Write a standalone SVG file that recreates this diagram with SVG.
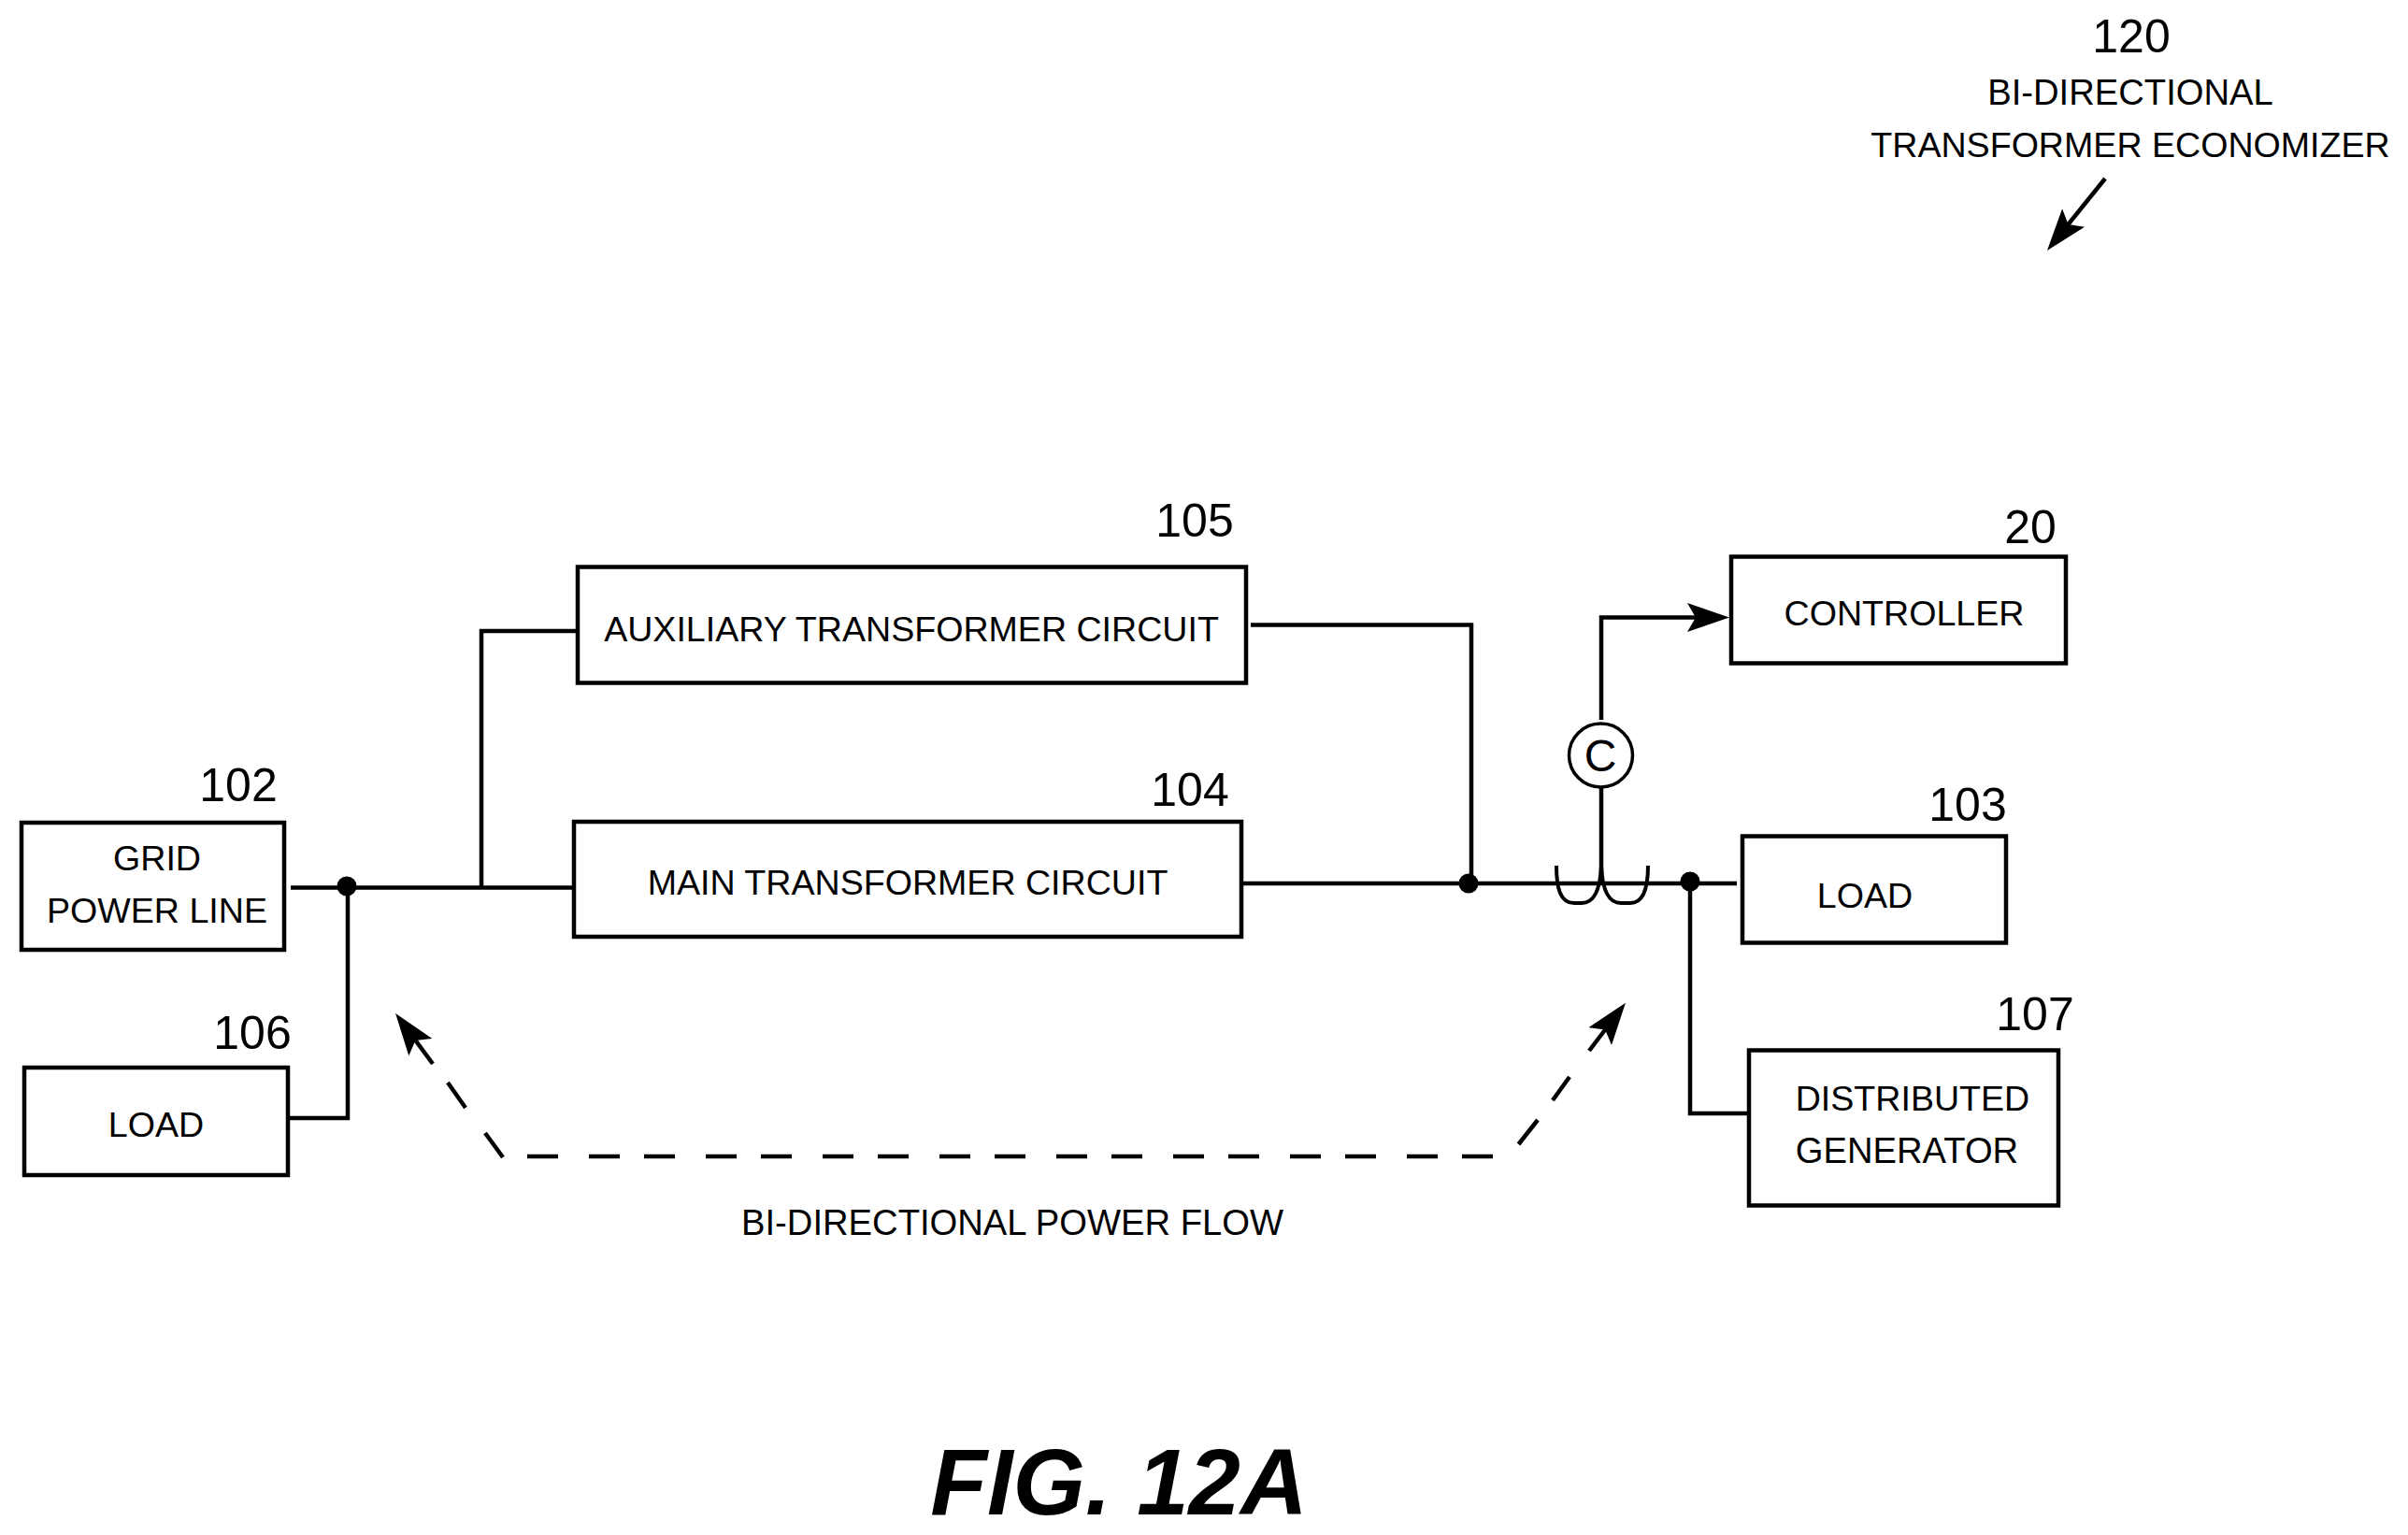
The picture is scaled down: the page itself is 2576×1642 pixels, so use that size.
<svg xmlns="http://www.w3.org/2000/svg" width="2576" height="1642" viewBox="0 0 2576 1642">
<style>
text{font-family:"Liberation Sans",Arial,sans-serif;fill:#000}
.lbl{font-size:37.6px}
.wide{font-size:38.2px}
.num{font-size:50px}
.fig{font-size:99.5px;font-weight:bold;font-style:italic}
.box{fill:#fff;stroke:#000;stroke-width:4.5}
.wire{fill:none;stroke:#000;stroke-width:4.5}
.thin{fill:none;stroke:#000;stroke-width:4}
.dash{fill:none;stroke:#000;stroke-width:4.5}
.dot{fill:#000}
</style>
<defs>
<marker id="head" markerUnits="userSpaceOnUse" markerWidth="45" markerHeight="31" viewBox="0 0 45 31" refX="36" refY="15.5" orient="auto">
<path d="M0 0L45 15.5L0 31L9 15.5Z" fill="#000"/>
</marker>
</defs>
<rect width="2576" height="1642" fill="#fff"/>
<g id="connectors">
<path class="wire" d="M311 949.5H613"/>
<path class="wire" d="M515 949.5V675H618"/>
<path class="wire" d="M310 1196H372V947"/>
<path class="wire" d="M1330 945H1858"/>
<path class="wire" d="M1338 668.5H1574V944"/>
<path class="wire" d="M1808 942V1191H1871"/>
<path class="wire" d="M1713 770V660.5H1841" marker-end="url(#head)"/>
<path class="wire" d="M1713 842V947"/>
<path class="thin" d="M1665 926C1665 950 1669 966 1684 966H1692C1706 966 1712 950 1713 926"/>
<path class="thin" d="M1713 926C1714 950 1720 966 1734 966H1744C1758 966 1763 950 1763 926"/>
<circle class="dot" cx="371" cy="948" r="10.5"/>
<circle class="dot" cx="1571" cy="945" r="10.5"/>
<circle class="dot" cx="1808" cy="943" r="10.5"/>
<path class="wire" d="M2252 191L2195.6 261" marker-end="url(#head)"/>
<g id="power-flow">
<path class="dash" stroke-dasharray="33 33 33 26" d="M564 1237H1597"/>
<path class="dash" d="M538 1238L519 1212M498 1185L479 1158"/>
<path class="dash" d="M463 1138L428.4 1091.2" marker-end="url(#head)"/>
<path class="dash" d="M1624.5 1224L1645 1198M1661 1177L1679 1152"/>
<path class="dash" d="M1700 1124L1733.5 1080" marker-end="url(#head)"/>
</g>
</g>
<g id="node-102"><rect class="box" x="23" y="880" width="281" height="136"/>
<text class="lbl" x="168" y="931" text-anchor="middle">GRID</text>
<text class="lbl" x="168" y="987" text-anchor="middle">POWER LINE</text>
<text class="num" x="255" y="857" text-anchor="middle">102</text></g>
<g id="node-106"><rect class="box" x="26" y="1142" width="282" height="115"/>
<text class="lbl" x="167" y="1216" text-anchor="middle">LOAD</text>
<text class="num" x="270" y="1122" text-anchor="middle">106</text></g>
<g id="node-105"><rect class="box" x="618" y="606.5" width="715" height="124"/>
<text class="lbl" x="975" y="686" text-anchor="middle">AUXILIARY TRANSFORMER CIRCUIT</text>
<text class="num" x="1278" y="574" text-anchor="middle">105</text></g>
<g id="node-104"><rect class="box" x="614" y="879" width="714" height="123"/>
<text class="lbl" x="971" y="957" text-anchor="middle">MAIN TRANSFORMER CIRCUIT</text>
<text class="num" x="1273" y="862" text-anchor="middle">104</text></g>
<g id="node-20"><rect class="box" x="1852" y="595.5" width="358" height="114"/>
<text class="lbl" x="2037" y="669" text-anchor="middle">CONTROLLER</text>
<text class="num" x="2172" y="581" text-anchor="middle">20</text></g>
<g id="node-103"><rect class="box" x="1864" y="894.5" width="282" height="114"/>
<text class="lbl" x="1995" y="971" text-anchor="middle">LOAD</text>
<text class="num" x="2105" y="878" text-anchor="middle">103</text></g>
<g id="node-107"><rect class="box" x="1871" y="1123.5" width="331" height="166"/>
<text class="lbl" x="2046" y="1188" text-anchor="middle">DISTRIBUTED</text>
<text class="wide" x="2040" y="1244" text-anchor="middle">GENERATOR</text>
<text class="num" x="2177" y="1102" text-anchor="middle">107</text></g>
<g id="node-c"><circle cx="1712.5" cy="808" r="34" fill="#fff" stroke="#000" stroke-width="3.5"/>
<text x="1712" y="825" text-anchor="middle" font-size="48">C</text></g>
<g id="label-120">
<text class="num" x="2280" y="56" text-anchor="middle">120</text>
<text class="wide" x="2279" y="112" text-anchor="middle">BI-DIRECTIONAL</text>
<text class="lbl" x="2279" y="168" text-anchor="middle">TRANSFORMER ECONOMIZER</text>
</g>
<text class="wide" x="1083" y="1321" text-anchor="middle">BI-DIRECTIONAL POWER FLOW</text>
<text class="fig" x="1197" y="1620" text-anchor="middle">FIG. 12A</text>
</svg>
